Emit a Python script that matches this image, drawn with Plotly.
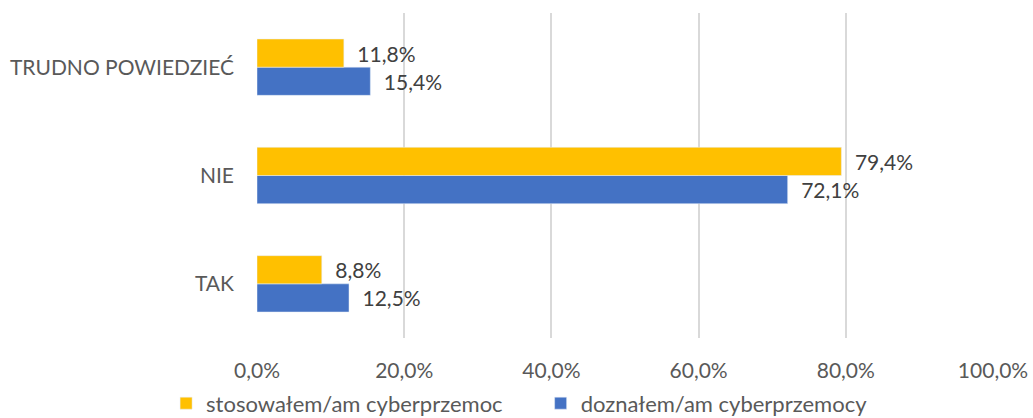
import plotly.graph_objects as go

categories = ["TAK", "NIE", "TRUDNO POWIEDZIEĆ"]
stosowalem = [8.8, 79.4, 11.8]
doznalem = [12.5, 72.1, 15.4]
tick_values = [0, 20, 40, 60, 80, 100]
tick_labels = ["0,0%", "20,0%", "40,0%", "60,0%", "80,0%", "100,0%"]

FONT = "Lato, Carlito, Calibri, sans-serif"
LABEL = "\u2002%{x:.1f}%"

fig = go.Figure()
# Blue trace first so that it sits below the yellow one within each group
fig.add_trace(go.Bar(
    y=categories, x=doznalem, orientation="h",
    name="doznałem/am cyberprzemocy",
    marker=dict(color="#4472C4"),
    text=doznalem, texttemplate=LABEL, textposition="outside",
    textfont=dict(size=21, color="#404040", family=FONT),
    cliponaxis=False, legendrank=2,
))
fig.add_trace(go.Bar(
    y=categories, x=stosowalem, orientation="h",
    name="stosowałem/am cyberprzemoc\u2003\u2003",
    marker=dict(color="#FFC000"),
    text=stosowalem, texttemplate=LABEL, textposition="outside",
    textfont=dict(size=21, color="#404040", family=FONT),
    cliponaxis=False, legendrank=1,
))

fig.update_layout(
    width=1033, height=418,
    margin=dict(l=257, r=40, t=13, b=80, autoexpand=False),
    paper_bgcolor="white", plot_bgcolor="white",
    barmode="group", bargap=0.48, bargroupgap=0,
    separators=",.",
    font=dict(family=FONT, size=21, color="#595959"),
    showlegend=True,
    legend=dict(
        orientation="h", xref="container", x=0.503, xanchor="center",
        yref="container", y=0.035, yanchor="middle",
        font=dict(size=22, color="#595959"),
        itemwidth=30, tracegroupgap=0,
    ),
    xaxis=dict(
        range=[0, 100], tickvals=tick_values, ticktext=tick_labels,
        showgrid=True, gridcolor="#D9D9D9", gridwidth=2,
        zeroline=False, showline=False, ticks="", ticklabelstandoff=18,
        automargin=False,
    ),
    yaxis=dict(
        range=[-0.5, 2.5], showgrid=False, zeroline=False, showline=False,
        ticks="", ticklabelstandoff=22, automargin=False,
    ),
)

fig.write_html("out.html")
